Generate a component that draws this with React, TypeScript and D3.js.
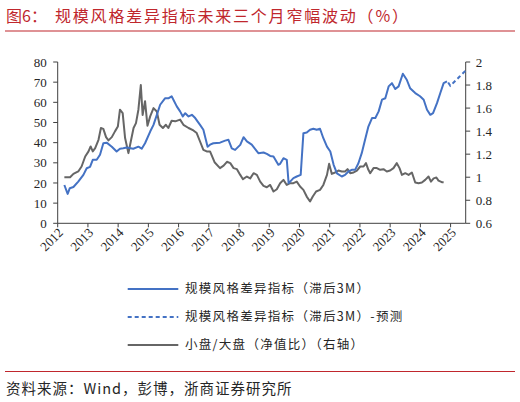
import * as d3 from "d3";

// 规模风格差异指标（滞后3M），左轴，%
const sizeDates = [
  2012.22, 2012.33, 2012.4, 2012.52, 2012.68, 2012.85, 2012.96, 2013.07, 2013.16, 2013.29,
  2013.4, 2013.51, 2013.62, 2013.79, 2013.95, 2014.06, 2014.17, 2014.28, 2014.5, 2014.67,
  2014.78, 2014.89, 2015.06, 2015.17, 2015.28, 2015.39, 2015.55, 2015.66, 2015.77, 2015.94,
  2016.05, 2016.14, 2016.22, 2016.33, 2016.44, 2016.55, 2016.71, 2016.82, 2016.96, 2017.04,
  2017.15, 2017.37, 2017.54, 2017.65, 2017.76, 2017.87, 2018.04, 2018.15, 2018.26, 2018.42,
  2018.64, 2018.81, 2018.92, 2019.03, 2019.14, 2019.3, 2019.36, 2019.47, 2019.58, 2019.64,
  2019.69, 2019.8, 2019.91, 2020.04, 2020.13, 2020.24, 2020.35, 2020.46, 2020.57, 2020.68,
  2020.79, 2020.91, 2021.02, 2021.13, 2021.24, 2021.4, 2021.51, 2021.62, 2021.73, 2021.84,
  2021.95, 2022.06, 2022.17, 2022.28, 2022.4, 2022.51, 2022.62, 2022.73, 2022.84, 2022.95,
  2023.06, 2023.17, 2023.28, 2023.42, 2023.55, 2023.66, 2023.83, 2023.99, 2024.11, 2024.22,
  2024.33, 2024.42, 2024.55, 2024.66, 2024.77, 2024.88,
];
const sizeValues = [
  19, 14.6, 17.4, 18, 20.7, 24, 27.3, 28, 31.5, 31.5,
  34, 39.7, 40, 38, 35.6, 37, 37.2, 37.6, 37, 38,
  37, 39.7, 45.5, 48.8, 53.8, 58.8, 62, 62, 63, 58,
  55.5, 53, 54.6, 53, 53.8, 52.2, 48.8, 46.4, 38, 39,
  39.7, 40, 41, 41.4, 37.2, 36.4, 38.9, 42.7, 40.6, 39,
  34.8, 35.1, 34.4, 33.4, 33.1, 29, 29.5, 32.3, 31.5, 19.9,
  20.7, 22.4, 23.2, 24, 44.7, 45, 46.4, 46.9, 46.4, 46.9,
  42.2, 38, 35.6, 29, 24.8, 23.2, 24, 25.7, 26.5, 26.5,
  29.8, 34.8, 41.4, 48, 52.2, 52.2, 55.5, 61.3, 62, 67.9,
  69.5, 66.6, 67.9, 74.2, 71.2, 67, 64.6, 63, 61.3, 56.3,
  53.8, 54.6, 59.6, 64.6, 69.5, 70.4,
];

// 预测段
const forecastDates = [2024.92, 2024.99, 2025.1, 2025.3, 2025.5];
const forecastValues = [69.8, 68.2, 69.8, 72.8, 75.8];

// 小盘/大盘（净值比），右轴
const ratioDates = [
  2012.22, 2012.41, 2012.52, 2012.68, 2012.79, 2012.91, 2013.02, 2013.09, 2013.16, 2013.24,
  2013.35, 2013.43, 2013.51, 2013.6, 2013.68, 2013.79, 2013.9, 2013.99, 2014.06, 2014.15,
  2014.23, 2014.34, 2014.43, 2014.51, 2014.59, 2014.67, 2014.75, 2014.81, 2014.89, 2014.97,
  2015.06, 2015.17, 2015.28, 2015.37, 2015.48, 2015.58, 2015.66, 2015.77, 2015.89, 2016.05,
  2016.16, 2016.33, 2016.49, 2016.6, 2016.71, 2016.82, 2016.93, 2017.04, 2017.19, 2017.37,
  2017.49, 2017.6, 2017.71, 2017.82, 2017.93, 2018.04, 2018.13, 2018.26, 2018.37, 2018.48,
  2018.59, 2018.7, 2018.81, 2018.92, 2019.03, 2019.14, 2019.25, 2019.36, 2019.47, 2019.58,
  2019.69, 2019.8, 2019.91, 2020.02, 2020.13, 2020.24, 2020.35, 2020.44, 2020.55, 2020.68,
  2020.79, 2020.91, 2020.98, 2021.07, 2021.18, 2021.29, 2021.4, 2021.51, 2021.59, 2021.68,
  2021.79, 2021.9, 2022.01, 2022.12, 2022.2, 2022.28, 2022.34, 2022.45, 2022.56, 2022.67,
  2022.78, 2022.89, 2023.0, 2023.11, 2023.22, 2023.31, 2023.39, 2023.5, 2023.61, 2023.72,
  2023.83, 2023.94, 2024.05, 2024.16, 2024.27, 2024.35, 2024.44, 2024.53, 2024.6, 2024.71,
  2024.77,
];
const ratioValues = [
  1.0, 1.0, 1.029, 1.05, 1.093, 1.18, 1.224, 1.267, 1.224, 1.253,
  1.325, 1.427, 1.42, 1.348, 1.32, 1.348, 1.4, 1.44, 1.586, 1.557,
  1.34, 1.209, 1.325, 1.427, 1.47, 1.586, 1.8, 1.54, 1.66, 1.447,
  1.528, 1.6, 1.57, 1.455, 1.427, 1.455, 1.427, 1.49, 1.485, 1.5,
  1.455, 1.427, 1.406, 1.383, 1.31, 1.238, 1.224, 1.224, 1.13, 1.079,
  1.1, 1.134, 1.122, 1.079, 1.07, 1.02, 0.983, 1.006, 0.99, 1.035,
  1.02, 0.962, 0.925, 0.913, 0.933, 0.876, 0.896, 0.948, 0.977, 0.933,
  0.948, 0.948, 0.962, 0.919, 0.89, 0.832, 0.789, 0.832, 0.876, 0.89,
  0.933, 1.02, 1.116, 1.029, 1.041, 1.058, 1.05, 1.05, 1.07, 1.035,
  1.041, 1.058, 1.093, 1.093, 1.122, 1.064, 1.035, 1.079, 1.079, 1.064,
  1.07, 1.05, 1.058, 1.079, 1.122, 1.079, 1.02, 1.035, 1.02, 1.041,
  0.954, 0.948, 0.954, 0.977, 1.006, 0.962, 0.99, 0.997, 0.97, 0.957,
  0.957,
];

const years = d3.range(2012, 2026);
const leftTicks = [0, 10, 20, 30, 40, 50, 60, 70, 80];
const rightTicks = [0.6, 0.8, 1, 1.2, 1.4, 1.6, 1.8, 2];

const legendItems = [
  { label: "规模风格差异指标（滞后3M）", color: "#4472c4", dash: "" },
  { label: "规模风格差异指标（滞后3M）-预测", color: "#4472c4", dash: "4,3" },
  { label: "小盘/大盘（净值比）（右轴）", color: "#666666", dash: "" },
];

const serif = '"Liberation Serif", "Noto Sans CJK SC", serif';
const cjk = '"Noto Sans CJK SC", "Liberation Serif", sans-serif';

export default function App() {
  const width = 520;
  const height = 402;
  const left = 57.7;
  const right = 465.7;
  const top = 62;
  const bottom = 223.3;

  const x = d3.scaleLinear().domain([2012, 2025.5]).range([left, right]);
  const yL = d3.scaleLinear().domain([0, 80]).range([bottom, top]);
  const yR = d3.scaleLinear().domain([0.6, 2]).range([bottom, top]);

  const sizePath =
    d3.line<number>().x((d) => x(d)).y((_, i) => yL(sizeValues[i]))(sizeDates) ?? "";
  const forecastPath =
    d3.line<number>().x((d) => x(d)).y((_, i) => yL(forecastValues[i]))(forecastDates) ?? "";
  const ratioPath =
    d3.line<number>().x((d) => x(d)).y((_, i) => yR(ratioValues[i]))(ratioDates) ?? "";

  const axisColor = "#404040";
  const red = "#c0272d";

  return (
    <svg
      width={width}
      height={height}
      viewBox={`0 0 ${width} ${height}`}
      style={{ position: "absolute", left: 0, top: 0, background: "#fff" }}
    >
      <rect width={width} height={height} fill="#fff" />

      {/* title */}
      <text x={6} y={22} fontSize={16} fill={red} fontFamily={cjk}>
        图6：
      </text>
      <text x={55} y={22} fontSize={16} fill={red} fontFamily={cjk} letterSpacing={1.8}>
        规模风格差异指标未来三个月窄幅波动（%）
      </text>
      <line x1={5} x2={515} y1={31} y2={31} stroke={red} strokeWidth={1.2} />

      {/* left axis */}
      <line x1={left} x2={left} y1={top} y2={bottom} stroke={axisColor} />
      {leftTicks.map((t) => (
        <g key={`l${t}`}>
          <line x1={left - 4.5} x2={left} y1={yL(t)} y2={yL(t)} stroke={axisColor} />
          <text
            x={left - 11}
            y={yL(t)}
            dy="0.35em"
            textAnchor="end"
            fontSize={13}
            fontFamily={serif}
            fill="#262626"
          >
            {t}
          </text>
        </g>
      ))}

      {/* right axis */}
      <line x1={right} x2={right} y1={top} y2={bottom} stroke={axisColor} />
      {rightTicks.map((t) => (
        <g key={`r${t}`}>
          <line x1={right} x2={right + 4.5} y1={yR(t)} y2={yR(t)} stroke={axisColor} />
          <text
            x={right + 10}
            y={yR(t)}
            dy="0.35em"
            fontSize={13}
            fontFamily={serif}
            fill="#262626"
          >
            {t}
          </text>
        </g>
      ))}

      {/* x axis */}
      <line x1={left} x2={right} y1={bottom} y2={bottom} stroke={axisColor} />
      {years.map((yr) => (
        <g key={yr}>
          <line x1={x(yr)} x2={x(yr)} y1={bottom} y2={bottom + 4} stroke={axisColor} />
          <text
            transform={`translate(${x(yr) + 3},${bottom + 7}) rotate(-45)`}
            textAnchor="end"
            dy="0.35em"
            fontSize={13}
            fontFamily={serif}
            fill="#262626"
          >
            {yr}
          </text>
        </g>
      ))}

      {/* series */}
      <path d={ratioPath} fill="none" stroke="#666666" strokeWidth={2} strokeLinejoin="round" />
      <path d={sizePath} fill="none" stroke="#4472c4" strokeWidth={2} strokeLinejoin="round" />
      <path
        d={forecastPath}
        fill="none"
        stroke="#4472c4"
        strokeWidth={2}
        strokeDasharray="4,3"
      />

      {/* legend */}
      {legendItems.map((item, i) => {
        const ly = 289 + i * 28;
        return (
          <g key={item.label}>
            <line
              x1={127.7}
              x2={178.3}
              y1={ly}
              y2={ly}
              stroke={item.color}
              strokeWidth={2}
              strokeDasharray={item.dash || undefined}
            />
            <text
              x={185}
              y={ly}
              dy="0.35em"
              fontSize={12.5}
              fontFamily={cjk}
              fill="#262626"
              letterSpacing={1.3}
            >
              {item.label}
            </text>
          </g>
        );
      })}

      {/* source */}
      <line x1={5} x2={515} y1={371.5} y2={371.5} stroke={red} strokeWidth={1.2} />
      <text x={6} y={394} fontSize={14.5} fontFamily={cjk} fill="#262626" letterSpacing={1}>
        资料来源：Wind，彭博，浙商证券研究所
      </text>
    </svg>
  );
}
